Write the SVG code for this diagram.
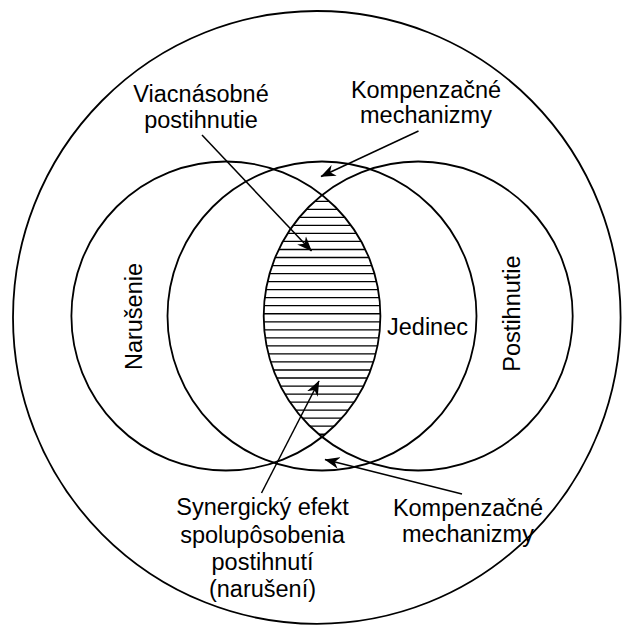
<svg xmlns="http://www.w3.org/2000/svg" width="623" height="630" viewBox="0 0 623 630">
  <style>
    .ring { fill: none; stroke: #000; stroke-width: 1.8; }
    .hatch { fill: none; stroke: #000; stroke-width: 1.3; }
    .arrow { fill: none; stroke: #000; stroke-width: 1.5; marker-end: url(#tip); }
    text { font-family: "Liberation Sans", Arial, Helvetica, sans-serif; font-size: 23.5px; fill: #000; }
    .mid { text-anchor: middle; }
  </style>
  <defs>
    <marker id="tip" markerUnits="userSpaceOnUse" viewBox="0 0 16 13" markerWidth="16" markerHeight="13" refX="14.5" refY="6.5" orient="auto">
      <path d="M15,6.5 L0,0.5 L4.5,6.5 L0,12.5 Z" fill="#000"/>
    </marker>
    <!-- overlap of the two side circles -->
    <clipPath id="lensClip">
      <path d="M322.05,195.1 A154.5,154.5 0 0 1 322.05,436.9 A154.5,154.5 0 0 1 322.05,195.1 Z"/>
    </clipPath>
  </defs>

  <rect width="623" height="630" fill="#fff"/>

  <!-- surrounding environment -->
  <g id="environment">
    <ellipse class="ring" cx="316.8" cy="317.4" rx="303.8" ry="306.4"/>
  </g>

  <!-- hatched overlap: combined effect -->
  <g id="overlap">
    <g clip-path="url(#lensClip)">
      <path class="hatch" d="M250,201.3 H400 M250,209.3 H400 M250,217.35 H400 M250,225.4 H400 M250,233.4 H400 M250,241.45 H400 M250,249.5 H400 M250,257.5 H400 M250,265.55 H400 M250,273.6 H400 M250,281.6 H400 M250,289.65 H400 M250,297.7 H400 M250,305.7 H400 M250,313.75 H400 M250,321.8 H400 M250,329.8 H400 M250,337.85 H400 M250,345.9 H400 M250,353.9 H400 M250,361.95 H400 M250,370 H400 M250,378 H400 M250,386.05 H400 M250,394.1 H400 M250,402.1 H400 M250,410.15 H400 M250,418.2 H400 M250,426.2 H400 M250,434.25 H400"/>
    </g>
  </g>

  <g id="narusenie">
    <circle class="ring" cx="225.9" cy="316" r="154.5"/>
    <text transform="translate(141.5,316.5) rotate(-90)" class="mid">Narušenie</text>
  </g>

  <g id="jedinec">
    <circle class="ring" cx="322" cy="316" r="154.5"/>
    <text x="387" y="335">Jedinec</text>
  </g>

  <g id="postihnutie">
    <circle class="ring" cx="418.2" cy="316" r="154.5"/>
    <text transform="translate(520,313.5) rotate(-90)" class="mid">Postihnutie</text>
  </g>

  <!-- callout labels -->
  <g id="label-viacnasobne">
    <text class="mid" x="201" y="101.5">Viacnásobné</text>
    <text class="mid" x="201" y="127.5">postihnutie</text>
  </g>
  <g id="label-kompenzacne-top">
    <text class="mid" x="426" y="97.5">Kompenzačné</text>
    <text class="mid" x="426" y="123">mechanizmy</text>
  </g>
  <g id="label-synergicky">
    <text class="mid" x="262.5" y="515">Synergický efekt</text>
    <text class="mid" x="262.5" y="542.5">spolupôsobenia</text>
    <text class="mid" x="262.5" y="570">postihnutí</text>
    <text class="mid" x="262.5" y="597">(narušení)</text>
  </g>
  <g id="label-kompenzacne-bottom">
    <text class="mid" x="468" y="516">Kompenzačné</text>
    <text class="mid" x="468" y="541.5">mechanizmy</text>
  </g>

  <g id="connectors">
    <line class="arrow" x1="202" y1="135" x2="311.5" y2="251"/>
    <line class="arrow" x1="418.5" y1="131" x2="321" y2="176.5"/>
    <line class="arrow" x1="261.5" y1="493" x2="319" y2="381"/>
    <line class="arrow" x1="462" y1="494" x2="325" y2="459.5"/>
  </g>
</svg>
